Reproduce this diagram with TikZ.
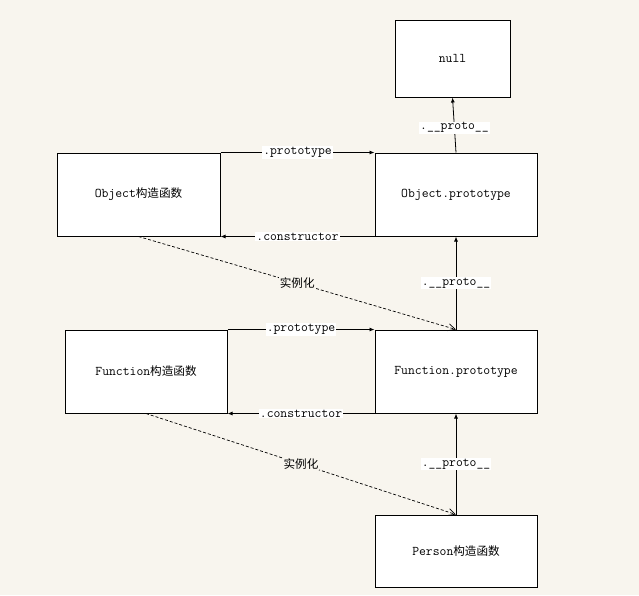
\documentclass[tikz,border=0pt]{standalone}
\usepackage{fontspec}
\setmainfont{Latin Modern Mono}
\newfontfamily\cjk{Noto Sans CJK SC}
\usetikzlibrary{arrows.meta}
\definecolor{paper}{HTML}{F8F5EE}

\begin{document}
\begin{tikzpicture}[x=1pt, y=-1pt,
		font=\fontsize{13.3}{15}\selectfont,
		box/.style={draw, line width=1pt, fill=white, minimum width=162pt, minimum height=83pt, inner sep=0pt},
		link/.style={line width=0.8pt, -{Latex[length=5pt, width=4pt]}},
		inst/.style={line width=0.7pt, dash pattern=on 3pt off 2pt, -{Straight Barb[length=7pt, width=7pt]}},
		lbl/.style={fill=white, inner sep=1pt}]
		\fill[paper] (0, 0) rectangle (639, 595);
		\useasboundingbox (0, 0) rectangle (639, 595);

		\node[box, minimum width=115pt, minimum height=77pt] (null) at (452.5, 58.5) {null};
		\node[box, minimum width=163pt] (objfn) at (138.5, 194.5) {Object{\cjk\fontsize{11.6}{13}\selectfont 构造函数}};
		\node[box] (objproto) at (456, 194.5) {Object.prototype};
		\node[box] (funfn) at (146, 371.5) {Function{\cjk\fontsize{11.6}{13}\selectfont 构造函数}};
		\node[box] (funproto) at (456, 371.5) {Function.prototype};
		\node[box, minimum height=72pt] (person) at (456, 551) {Person{\cjk\fontsize{11.6}{13}\selectfont 构造函数}};

		% Object
		\draw[link] (objfn.north east) -- node[lbl] {.prototype} (objproto.north west);
		\draw[link] (objproto.south west) -- node[lbl] {.constructor} (objfn.south east);
		\draw[link] (objproto.north) -- node[lbl, pos=0.45] {.\_\_proto\_\_} (null.south);

		% Function
		\draw[link] (funfn.north east) -- node[lbl] {.prototype} (funproto.north west);
		\draw[link] (funproto.south west) -- node[lbl] {.constructor} (funfn.south east);
		\draw[link] (funproto.north) -- node[lbl] {.\_\_proto\_\_} (objproto.south);

		% Person
		\draw[link] (person.north) -- node[lbl] {.\_\_proto\_\_} (funproto.south);

		\draw[inst] (objfn.south) -- node[fill=paper, inner sep=1pt] {\cjk\fontsize{11.6}{13}\selectfont 实例化} (funproto.north);
		\draw[inst] (funfn.south) -- node[fill=paper, inner sep=1pt] {\cjk\fontsize{11.6}{13}\selectfont 实例化} (person.north);
\end{tikzpicture}
\end{document}
